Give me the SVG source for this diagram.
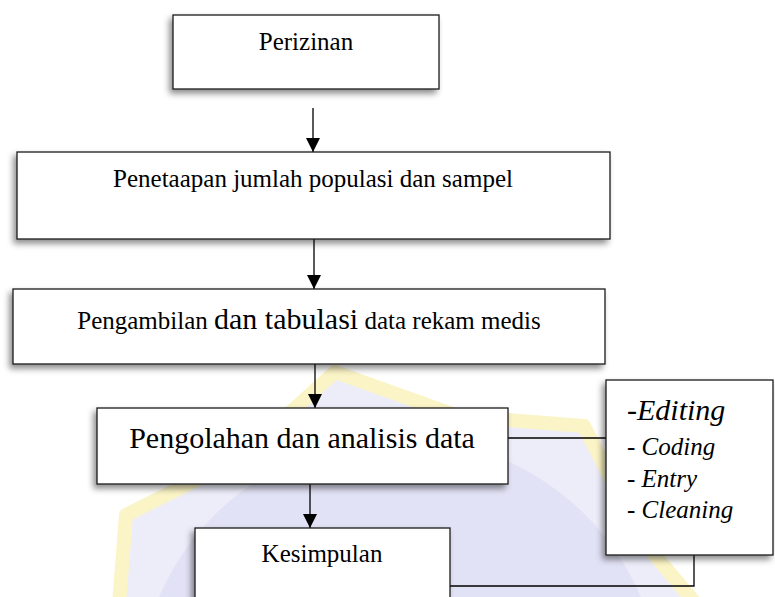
<svg xmlns="http://www.w3.org/2000/svg" width="775" height="597" viewBox="0 0 775 597">
  <style>
    .box { fill: #ffffff; stroke: #1a1a1a; stroke-width: 1.3; filter: url(#shadow); }
    .t { font-family: "Liberation Serif", "Times New Roman", serif; fill: #000; font-size: 25px; }
    .big { font-size: 30px; }
    .it { font-style: italic; }
    .conn { stroke: #000; stroke-width: 1.3; fill: none; }
    .arrow { marker-end: url(#ah); }
  </style>
  <defs>
    <filter id="shadow" x="-10%" y="-10%" width="120%" height="130%">
      <feDropShadow dx="-3" dy="4" stdDeviation="3" flood-color="#000" flood-opacity="0.45"/>
    </filter>
    <marker id="ah" viewBox="0 0 14 14" refX="14" refY="7" markerWidth="14" markerHeight="14" markerUnits="userSpaceOnUse" orient="auto">
      <path d="M0,0 L14,7 L0,14 Z" fill="#000"/>
    </marker>
  </defs>
  <rect width="775" height="597" fill="#ffffff"/>
  <g id="watermark">
    <polygon points="335,372 458,416 584,426 642,540 724,637 116,642 126,515 240,458" fill="#ededfa" stroke="#fbf4c6" stroke-width="14" stroke-linejoin="round"/>
    <circle cx="400" cy="700" r="262" fill="#e2e2f6"/>
  </g>
  <g id="connectors">
    <line class="conn arrow" x1="313" y1="108" x2="313" y2="152"/>
    <line class="conn arrow" x1="314" y1="239" x2="314" y2="289"/>
    <line class="conn arrow" x1="315" y1="364" x2="315" y2="408"/>
    <line class="conn arrow" x1="310" y1="484" x2="310" y2="528"/>
    <line class="conn" x1="508" y1="438" x2="606" y2="438"/>
    <polyline class="conn" points="450,586 694,586 694,555"/>
  </g>
  <g id="n-perizinan">
    <rect class="box" x="173" y="15" width="266" height="74"/>
    <text class="t" x="306" y="50" text-anchor="middle">Perizinan</text>
  </g>
  <g id="n-penetapan">
    <rect class="box" x="17" y="152" width="593" height="87"/>
    <text class="t" x="313" y="187" text-anchor="middle">Penetaapan jumlah populasi dan sampel</text>
  </g>
  <g id="n-pengambilan">
    <rect class="box" x="13" y="289" width="592" height="75"/>
    <text class="t" x="309" y="329" text-anchor="middle">Pengambilan <tspan class="big">dan tabulasi</tspan> data rekam medis</text>
  </g>
  <g id="n-pengolahan">
    <rect class="box" x="97" y="408" width="411" height="76"/>
    <text class="t big" x="302" y="448" text-anchor="middle">Pengolahan dan analisis data</text>
  </g>
  <g id="n-tahap">
    <rect class="box" x="606" y="380" width="167" height="175"/>
    <text class="t big it" x="627" y="420">-Editing</text>
    <text class="t it" x="627" y="455">- Coding</text>
    <text class="t it" x="627" y="487">- Entry</text>
    <text class="t it" x="627" y="518">- Cleaning</text>
  </g>
  <g id="n-kesimpulan">
    <rect class="box" x="195" y="528" width="255" height="100"/>
    <text class="t" x="322" y="562" text-anchor="middle">Kesimpulan</text>
  </g>
</svg>
